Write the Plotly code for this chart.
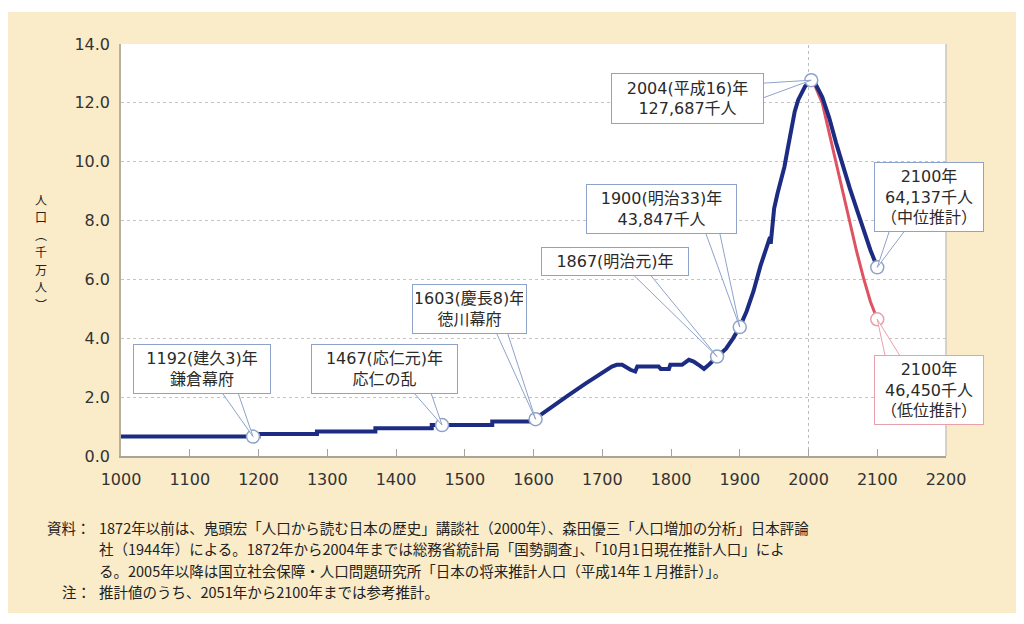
import plotly.graph_objects as go

# 日本の人口の長期推移（単位：千万人）
# 1600年以前（階段状）
early_years = [1000, 1200, 1285, 1370, 1452, 1540, 1600]
early_pop = [0.66, 0.75, 0.83, 0.94, 1.05, 1.17, 1.23]

# 1600年〜2004年
hist_years = [1600, 1625, 1650, 1675, 1700, 1714, 1721, 1729, 1741, 1748,
              1751, 1782, 1785, 1797, 1799, 1816, 1826, 1833, 1840, 1848,
              1855, 1867, 1872, 1880, 1890, 1900, 1910, 1920, 1930, 1940,
              1944, 1945, 1947, 1950, 1955, 1960, 1965, 1970, 1975, 1980,
              1985, 1990, 1995, 2000, 2004]
hist_pop = [1.23, 1.62, 2.05, 2.45, 2.85, 3.04, 3.10, 3.10, 2.93, 2.87,
            3.04, 3.04, 2.96, 2.96, 3.10, 3.10, 3.27, 3.21, 3.10, 2.96,
            3.10, 3.38, 3.48, 3.65, 3.99, 4.38, 4.92, 5.60, 6.45, 7.19,
            7.44, 7.21, 7.81, 8.41, 8.93, 9.34, 9.83, 10.47, 11.19, 11.71,
            12.10, 12.36, 12.56, 12.69, 12.77]

# 将来推計（中位・低位）
proj_years = [2004, 2010, 2020, 2030, 2040, 2050, 2060, 2070, 2080, 2090, 2100]
proj_mid = [12.77, 12.65, 12.20, 11.50, 10.65, 9.85, 9.10, 8.40, 7.65, 7.00, 6.41]
proj_low = [12.77, 12.55, 12.00, 11.00, 9.90, 8.90, 7.90, 6.95, 6.05, 5.25, 4.645]

# 吹き出しの付く点
mark_years = [1192, 1467, 1603, 1867, 1900, 2004, 2100, 2100]
mark_pop = [0.66, 1.05, 1.25, 3.38, 4.38, 12.77, 6.41, 4.645]
mark_labels = [
    "1192(建久3)年<br>鎌倉幕府",
    "1467(応仁元)年<br>応仁の乱",
    "1603(慶長8)年<br>徳川幕府",
    "1867(明治元)年",
    "1900(明治33)年<br>43,847千人",
    "2004(平成16)年<br>127,687千人",
    "2100年<br>64,137千人<br>（中位推計）",
    "2100年<br>46,450千人<br>（低位推計）",
]

x_ticks = list(range(1000, 2201, 100))
y_ticks = [0, 2, 4, 6, 8, 10, 12, 14]

y_title = ["人", "口", "︵", "千", "万", "人", "︶"]

note_heads = ["資料：", "", "", "注："]
note_lines = [
    "1872年以前は、鬼頭宏「人口から読む日本の歴史」講談社（2000年）、森田優三「人口増加の分析」日本評論",
    "社（1944年）による。1872年から2004年までは総務省統計局「国勢調査」、「10月1日現在推計人口」によ",
    "る。2005年以降は国立社会保障・人口問題研究所「日本の将来推計人口（平成14年１月推計）」。",
    "推計値のうち、2051年から2100年までは参考推計。",
]

# 体裁（ページの余白 8px を差し引いた図の大きさ）
OFF = 8
W, H = 1008, 608
L, R, T, B = 113, 70, 36, 160
PW = W - L - R
PH = H - T - B

BEIGE = "#FAEBC9"
NAVY = "#1C2C82"
RED = "#DE5262"
BOX_BLUE = "#8EA3CA"
BOX_PINK = "#E9A0AB"
JP = "Noto Sans CJK JP"
MIX = "DejaVu Sans, Noto Sans CJK JP"


def px_x(px):
    # 画面上の x 画素 → paper 座標
    return (px - OFF - L) / PW


def px_y(py):
    # 画面上の y 画素 → paper 座標
    return (H - B - (py - OFF)) / PH


# 吹き出し位置（点からの画素オフセット）、箱の大きさ、くさびの根元
box_pos = [
    dict(ax=-51, ay=-68, w=138, h=50, wedge=[(-31, 44), (-15, 44)]),
    dict(ax=-58, ay=-56, w=147, h=50, wedge=[(-28, 32), (-11, 32)]),
    dict(ax=-66, ay=-110, w=115, h=50, wedge=[(-39, 86), (-28, 86)]),
    dict(ax=-102, ay=-95, w=148, h=29, wedge=[(-84, 82), (-67, 82)]),
    dict(ax=-78, ay=-118, w=151, h=50, wedge=[(-34, 94), (-20, 94)]),
    dict(ax=-124, ay=18, w=153, h=51, wedge=[(-49, -3), (-49, -18)]),
    dict(ax=52, ay=-70, w=110, h=70, wedge=[(12, 36), (27, 36)]),
    dict(ax=52, ay=71, w=110, h=70, wedge=[(8, -37), (23, -37)]),
]

fig = go.Figure()

fig.add_trace(go.Scatter(x=early_years, y=early_pop, mode="lines",
                         line=dict(color=NAVY, width=4, shape="hv"),
                         hoverinfo="skip", showlegend=False))
fig.add_trace(go.Scatter(x=hist_years, y=hist_pop, mode="lines",
                         line=dict(color=NAVY, width=4),
                         hoverinfo="skip", showlegend=False))
fig.add_trace(go.Scatter(x=proj_years, y=proj_low, mode="lines",
                         line=dict(color=RED, width=3),
                         hoverinfo="skip", showlegend=False))
fig.add_trace(go.Scatter(x=proj_years, y=proj_mid, mode="lines",
                         line=dict(color=NAVY, width=4),
                         hoverinfo="skip", showlegend=False))

outline = [BOX_BLUE] * (len(mark_years) - 1) + [BOX_PINK]
fig.add_trace(go.Scatter(x=mark_years, y=mark_pop, mode="markers",
                         marker=dict(size=13, color="white",
                                     line=dict(color=outline, width=1.5)),
                         hoverinfo="skip", showlegend=False))

shapes = []
annotations = []

for i, (yr, val, lab) in enumerate(zip(mark_years, mark_pop, mark_labels)):
    p = box_pos[i]
    border = BOX_PINK if i == len(mark_years) - 1 else BOX_BLUE
    (x1, y1), (x2, y2) = p["wedge"]
    shapes.append(dict(type="path", xref="x", yref="y",
                       xsizemode="pixel", ysizemode="pixel",
                       xanchor=yr, yanchor=val,
                       path=f"M 0,0 L {x1},{y1} L {x2},{y2} Z",
                       fillcolor="white", line=dict(color=border, width=1),
                       layer="above"))
    annotations.append(dict(x=yr, y=val, xref="x", yref="y",
                            text=lab, showarrow=True, ax=p["ax"], ay=p["ay"],
                            arrowcolor="rgba(0,0,0,0)", arrowwidth=0.1,
                            width=p["w"] - 8, height=p["h"] - 8,
                            bgcolor="white", bordercolor=border,
                            borderwidth=1, borderpad=3,
                            font=dict(family=MIX, size=16, color="#2A2A2A")))

# 2000年の縦の点線
shapes.append(dict(type="line", xref="x", yref="paper", x0=2000, x1=2000,
                   y0=0, y1=1, line=dict(color="#BDBDBD", width=1, dash="dot"),
                   layer="below"))
# 右端の枠線
shapes.append(dict(type="line", xref="paper", yref="paper", x0=1, x1=1,
                   y0=0, y1=1, line=dict(color="#C9C6C0", width=1.5)))
# 上下の白い帯
shapes.append(dict(type="rect", xref="paper", yref="paper",
                   x0=px_x(0), x1=px_x(1030), y0=px_y(12), y1=px_y(0),
                   fillcolor="white", line=dict(width=0)))
shapes.append(dict(type="rect", xref="paper", yref="paper",
                   x0=px_x(0), x1=px_x(1030), y0=px_y(630), y1=px_y(613),
                   fillcolor="white", line=dict(width=0)))

# 縦書きの軸タイトル（1文字ずつ）
title_y = [199, 216.5, 234, 251.5, 269, 286.5, 304]
for ch, ty in zip(y_title, title_y):
    annotations.append(dict(xref="paper", yref="paper", x=px_x(41), y=px_y(ty),
                            text=ch, showarrow=False, xanchor="center",
                            yanchor="middle",
                            font=dict(family=JP, size=12, color="#222222")))

# 資料・注（1行ずつ）
for k, (head, body) in enumerate(zip(note_heads, note_lines)):
    yy = px_y(527 + 21.5 * k)
    if head:
        annotations.append(dict(xref="paper", yref="paper", x=px_x(93), y=yy,
                                text=head, showarrow=False, xanchor="right",
                                yanchor="middle",
                                font=dict(family=JP, size=14.5, color="#222222")))
    annotations.append(dict(xref="paper", yref="paper", x=px_x(97), y=yy,
                            text=body, showarrow=False, xanchor="left",
                            yanchor="middle",
                            font=dict(family=JP, size=14.5, color="#222222")))

fig.update_layout(
    width=W, height=H,
    margin=dict(l=L, r=R, t=T, b=B),
    paper_bgcolor=BEIGE, plot_bgcolor="white",
    shapes=shapes, annotations=annotations,
    showlegend=False,
    xaxis=dict(range=[1000, 2200], tickvals=x_ticks, ticks="inside",
               ticklen=7, tickcolor="#A8A49A", tickwidth=1,
               showline=True, linecolor="#A8A49A", linewidth=1.5,
               showgrid=False, zeroline=False, ticklabelstandoff=8,
               tickfont=dict(family="DejaVu Sans", size=16, color="#333333")),
    yaxis=dict(range=[0, 14], tickvals=y_ticks, tickformat=".1f", ticks="",
               showline=True, linecolor="#B8B09C", linewidth=1.5,
               showgrid=True, gridcolor="#C4C4C4", gridwidth=1, griddash="dot",
               zeroline=False, ticklabelstandoff=6,
               tickfont=dict(family="DejaVu Sans", size=16, color="#333333")),
)

fig.write_html("out.html")
